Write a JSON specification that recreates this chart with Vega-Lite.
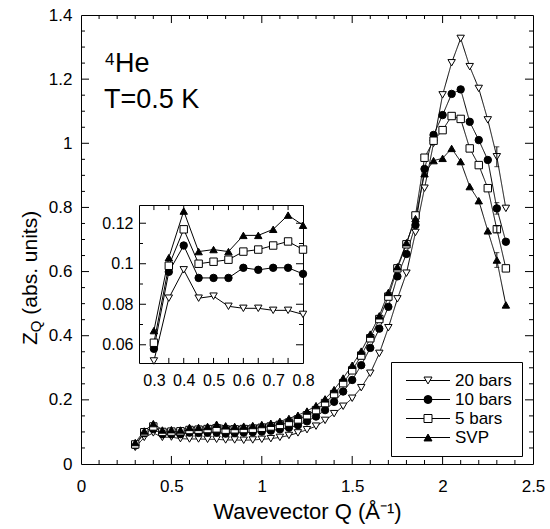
{
  "$schema": "https://vega.github.io/schema/vega-lite/v6.json",
  "width": 452,
  "height": 449,
  "autosize": {"type": "none"},
  "padding": {"left": 81, "top": 15, "right": 17, "bottom": 65},
  "background": "white",
  "config": {
    "view": {"stroke": null},
    "font": "Liberation Sans",
    "axis": {"domainColor": "black", "labelColor": "black", "titleColor": "black", "labelFont": "Liberation Sans", "titleFont": "Liberation Sans", "grid": false, "domainWidth": 1},
    "text": {"font": "Liberation Sans", "color": "black"}
  },
  "datasets": {
    "zq": [
      {"series": "20 bars", "q": 0.3, "z": 0.052}, {"series": "20 bars", "q": 0.35, "z": 0.083}, {"series": "20 bars", "q": 0.4, "z": 0.097}, {"series": "20 bars", "q": 0.45, "z": 0.083}, {"series": "20 bars", "q": 0.5, "z": 0.084}, {"series": "20 bars", "q": 0.55, "z": 0.079}, {"series": "20 bars", "q": 0.6, "z": 0.078}, {"series": "20 bars", "q": 0.65, "z": 0.078}, {"series": "20 bars", "q": 0.7, "z": 0.077}, {"series": "20 bars", "q": 0.75, "z": 0.077}, {"series": "20 bars", "q": 0.8, "z": 0.075},
      {"series": "20 bars", "q": 0.85, "z": 0.075}, {"series": "20 bars", "q": 0.9, "z": 0.074}, {"series": "20 bars", "q": 0.95, "z": 0.075}, {"series": "20 bars", "q": 1.0, "z": 0.077}, {"series": "20 bars", "q": 1.05, "z": 0.079}, {"series": "20 bars", "q": 1.1, "z": 0.083}, {"series": "20 bars", "q": 1.15, "z": 0.089}, {"series": "20 bars", "q": 1.2, "z": 0.097}, {"series": "20 bars", "q": 1.25, "z": 0.107}, {"series": "20 bars", "q": 1.3, "z": 0.118}, {"series": "20 bars", "q": 1.35, "z": 0.136}, {"series": "20 bars", "q": 1.4, "z": 0.157}, {"series": "20 bars", "q": 1.45, "z": 0.18}, {"series": "20 bars", "q": 1.5, "z": 0.205}, {"series": "20 bars", "q": 1.55, "z": 0.238}, {"series": "20 bars", "q": 1.6, "z": 0.283}, {"series": "20 bars", "q": 1.65, "z": 0.345}, {"series": "20 bars", "q": 1.7, "z": 0.425}, {"series": "20 bars", "q": 1.75, "z": 0.515}, {"series": "20 bars", "q": 1.8, "z": 0.595}, {"series": "20 bars", "q": 1.85, "z": 0.722}, {"series": "20 bars", "q": 1.9, "z": 0.86}, {"series": "20 bars", "q": 1.95, "z": 1.0}, {"series": "20 bars", "q": 2.0, "z": 1.151}, {"series": "20 bars", "q": 2.05, "z": 1.251}, {"series": "20 bars", "q": 2.1, "z": 1.327}, {"series": "20 bars", "q": 2.15, "z": 1.239}, {"series": "20 bars", "q": 2.2, "z": 1.171}, {"series": "20 bars", "q": 2.25, "z": 1.073}, {"series": "20 bars", "q": 2.3, "z": 0.958, "err": 0.031}, {"series": "20 bars", "q": 2.35, "z": 0.797},
      {"series": "10 bars", "q": 0.3, "z": 0.058}, {"series": "10 bars", "q": 0.35, "z": 0.096}, {"series": "10 bars", "q": 0.4, "z": 0.109}, {"series": "10 bars", "q": 0.45, "z": 0.093}, {"series": "10 bars", "q": 0.5, "z": 0.093}, {"series": "10 bars", "q": 0.55, "z": 0.093}, {"series": "10 bars", "q": 0.6, "z": 0.098}, {"series": "10 bars", "q": 0.65, "z": 0.097}, {"series": "10 bars", "q": 0.7, "z": 0.098}, {"series": "10 bars", "q": 0.75, "z": 0.098}, {"series": "10 bars", "q": 0.8, "z": 0.095},
      {"series": "10 bars", "q": 0.85, "z": 0.097}, {"series": "10 bars", "q": 0.9, "z": 0.098}, {"series": "10 bars", "q": 0.95, "z": 0.099}, {"series": "10 bars", "q": 1.0, "z": 0.101}, {"series": "10 bars", "q": 1.05, "z": 0.104}, {"series": "10 bars", "q": 1.1, "z": 0.108}, {"series": "10 bars", "q": 1.15, "z": 0.113}, {"series": "10 bars", "q": 1.2, "z": 0.121}, {"series": "10 bars", "q": 1.25, "z": 0.133}, {"series": "10 bars", "q": 1.3, "z": 0.148}, {"series": "10 bars", "q": 1.35, "z": 0.168}, {"series": "10 bars", "q": 1.4, "z": 0.194}, {"series": "10 bars", "q": 1.45, "z": 0.226}, {"series": "10 bars", "q": 1.5, "z": 0.262}, {"series": "10 bars", "q": 1.55, "z": 0.308}, {"series": "10 bars", "q": 1.6, "z": 0.362}, {"series": "10 bars", "q": 1.65, "z": 0.422}, {"series": "10 bars", "q": 1.7, "z": 0.49}, {"series": "10 bars", "q": 1.75, "z": 0.585}, {"series": "10 bars", "q": 1.8, "z": 0.655}, {"series": "10 bars", "q": 1.85, "z": 0.745}, {"series": "10 bars", "q": 1.9, "z": 0.92}, {"series": "10 bars", "q": 1.95, "z": 1.026}, {"series": "10 bars", "q": 2.0, "z": 1.088}, {"series": "10 bars", "q": 2.05, "z": 1.154}, {"series": "10 bars", "q": 2.1, "z": 1.168}, {"series": "10 bars", "q": 2.15, "z": 1.067}, {"series": "10 bars", "q": 2.2, "z": 1.01}, {"series": "10 bars", "q": 2.25, "z": 0.948}, {"series": "10 bars", "q": 2.3, "z": 0.797, "err": 0.018}, {"series": "10 bars", "q": 2.35, "z": 0.693},
      {"series": "5 bars", "q": 0.3, "z": 0.061}, {"series": "5 bars", "q": 0.35, "z": 0.099}, {"series": "5 bars", "q": 0.4, "z": 0.117}, {"series": "5 bars", "q": 0.45, "z": 0.1}, {"series": "5 bars", "q": 0.5, "z": 0.101}, {"series": "5 bars", "q": 0.55, "z": 0.102}, {"series": "5 bars", "q": 0.6, "z": 0.106}, {"series": "5 bars", "q": 0.65, "z": 0.107}, {"series": "5 bars", "q": 0.7, "z": 0.109}, {"series": "5 bars", "q": 0.75, "z": 0.111}, {"series": "5 bars", "q": 0.8, "z": 0.107},
      {"series": "5 bars", "q": 0.85, "z": 0.108}, {"series": "5 bars", "q": 0.9, "z": 0.109}, {"series": "5 bars", "q": 0.95, "z": 0.11}, {"series": "5 bars", "q": 1.0, "z": 0.113}, {"series": "5 bars", "q": 1.05, "z": 0.117}, {"series": "5 bars", "q": 1.1, "z": 0.122}, {"series": "5 bars", "q": 1.15, "z": 0.129}, {"series": "5 bars", "q": 1.2, "z": 0.139}, {"series": "5 bars", "q": 1.25, "z": 0.152}, {"series": "5 bars", "q": 1.3, "z": 0.168}, {"series": "5 bars", "q": 1.35, "z": 0.19}, {"series": "5 bars", "q": 1.4, "z": 0.218}, {"series": "5 bars", "q": 1.45, "z": 0.252}, {"series": "5 bars", "q": 1.5, "z": 0.292}, {"series": "5 bars", "q": 1.55, "z": 0.338}, {"series": "5 bars", "q": 1.6, "z": 0.392}, {"series": "5 bars", "q": 1.65, "z": 0.452}, {"series": "5 bars", "q": 1.7, "z": 0.522}, {"series": "5 bars", "q": 1.75, "z": 0.61}, {"series": "5 bars", "q": 1.8, "z": 0.685}, {"series": "5 bars", "q": 1.85, "z": 0.775}, {"series": "5 bars", "q": 1.9, "z": 0.955}, {"series": "5 bars", "q": 1.95, "z": 1.008}, {"series": "5 bars", "q": 2.0, "z": 1.041}, {"series": "5 bars", "q": 2.05, "z": 1.085}, {"series": "5 bars", "q": 2.1, "z": 1.076}, {"series": "5 bars", "q": 2.15, "z": 0.984}, {"series": "5 bars", "q": 2.2, "z": 0.932}, {"series": "5 bars", "q": 2.25, "z": 0.86}, {"series": "5 bars", "q": 2.3, "z": 0.732, "err": 0.01}, {"series": "5 bars", "q": 2.35, "z": 0.61},
      {"series": "SVP", "q": 0.3, "z": 0.067}, {"series": "SVP", "q": 0.35, "z": 0.103}, {"series": "SVP", "q": 0.4, "z": 0.126}, {"series": "SVP", "q": 0.45, "z": 0.106}, {"series": "SVP", "q": 0.5, "z": 0.107}, {"series": "SVP", "q": 0.55, "z": 0.106}, {"series": "SVP", "q": 0.6, "z": 0.114}, {"series": "SVP", "q": 0.65, "z": 0.114}, {"series": "SVP", "q": 0.7, "z": 0.117}, {"series": "SVP", "q": 0.75, "z": 0.124}, {"series": "SVP", "q": 0.8, "z": 0.119},
      {"series": "SVP", "q": 0.85, "z": 0.117}, {"series": "SVP", "q": 0.9, "z": 0.118}, {"series": "SVP", "q": 0.95, "z": 0.12}, {"series": "SVP", "q": 1.0, "z": 0.123}, {"series": "SVP", "q": 1.05, "z": 0.127}, {"series": "SVP", "q": 1.1, "z": 0.133}, {"series": "SVP", "q": 1.15, "z": 0.142}, {"series": "SVP", "q": 1.2, "z": 0.152}, {"series": "SVP", "q": 1.25, "z": 0.165}, {"series": "SVP", "q": 1.3, "z": 0.182}, {"series": "SVP", "q": 1.35, "z": 0.203}, {"series": "SVP", "q": 1.4, "z": 0.232}, {"series": "SVP", "q": 1.45, "z": 0.268}, {"series": "SVP", "q": 1.5, "z": 0.308}, {"series": "SVP", "q": 1.55, "z": 0.352}, {"series": "SVP", "q": 1.6, "z": 0.405}, {"series": "SVP", "q": 1.65, "z": 0.462}, {"series": "SVP", "q": 1.7, "z": 0.535}, {"series": "SVP", "q": 1.75, "z": 0.615}, {"series": "SVP", "q": 1.8, "z": 0.69}, {"series": "SVP", "q": 1.85, "z": 0.765}, {"series": "SVP", "q": 1.9, "z": 0.905}, {"series": "SVP", "q": 1.95, "z": 0.946}, {"series": "SVP", "q": 2.0, "z": 0.953}, {"series": "SVP", "q": 2.05, "z": 0.984}, {"series": "SVP", "q": 2.1, "z": 0.943}, {"series": "SVP", "q": 2.15, "z": 0.865}, {"series": "SVP", "q": 2.2, "z": 0.821}, {"series": "SVP", "q": 2.25, "z": 0.727}, {"series": "SVP", "q": 2.3, "z": 0.636, "err": 0.023}, {"series": "SVP", "q": 2.35, "z": 0.496},
      {"axis": "x", "kind": "major", "v": 0.5}, {"axis": "x", "kind": "major", "v": 1}, {"axis": "x", "kind": "major", "v": 1.5}, {"axis": "x", "kind": "major", "v": 2},
      {"axis": "x", "kind": "minor", "v": 0.1}, {"axis": "x", "kind": "minor", "v": 0.2}, {"axis": "x", "kind": "minor", "v": 0.3}, {"axis": "x", "kind": "minor", "v": 0.4}, {"axis": "x", "kind": "minor", "v": 0.6}, {"axis": "x", "kind": "minor", "v": 0.7}, {"axis": "x", "kind": "minor", "v": 0.8}, {"axis": "x", "kind": "minor", "v": 0.9}, {"axis": "x", "kind": "minor", "v": 1.1}, {"axis": "x", "kind": "minor", "v": 1.2}, {"axis": "x", "kind": "minor", "v": 1.3}, {"axis": "x", "kind": "minor", "v": 1.4}, {"axis": "x", "kind": "minor", "v": 1.6}, {"axis": "x", "kind": "minor", "v": 1.7}, {"axis": "x", "kind": "minor", "v": 1.8}, {"axis": "x", "kind": "minor", "v": 1.9}, {"axis": "x", "kind": "minor", "v": 2.1}, {"axis": "x", "kind": "minor", "v": 2.2}, {"axis": "x", "kind": "minor", "v": 2.3}, {"axis": "x", "kind": "minor", "v": 2.4},
      {"axis": "y", "kind": "major", "v": 0.2}, {"axis": "y", "kind": "major", "v": 0.4}, {"axis": "y", "kind": "major", "v": 0.6}, {"axis": "y", "kind": "major", "v": 0.8}, {"axis": "y", "kind": "major", "v": 1}, {"axis": "y", "kind": "major", "v": 1.2},
      {"axis": "y", "kind": "minor", "v": 0.05}, {"axis": "y", "kind": "minor", "v": 0.1}, {"axis": "y", "kind": "minor", "v": 0.15}, {"axis": "y", "kind": "minor", "v": 0.25}, {"axis": "y", "kind": "minor", "v": 0.3}, {"axis": "y", "kind": "minor", "v": 0.35}, {"axis": "y", "kind": "minor", "v": 0.45}, {"axis": "y", "kind": "minor", "v": 0.5}, {"axis": "y", "kind": "minor", "v": 0.55}, {"axis": "y", "kind": "minor", "v": 0.65}, {"axis": "y", "kind": "minor", "v": 0.7}, {"axis": "y", "kind": "minor", "v": 0.75}, {"axis": "y", "kind": "minor", "v": 0.85}, {"axis": "y", "kind": "minor", "v": 0.9}, {"axis": "y", "kind": "minor", "v": 0.95}, {"axis": "y", "kind": "minor", "v": 1.05}, {"axis": "y", "kind": "minor", "v": 1.1}, {"axis": "y", "kind": "minor", "v": 1.15}, {"axis": "y", "kind": "minor", "v": 1.25}, {"axis": "y", "kind": "minor", "v": 1.3}, {"axis": "y", "kind": "minor", "v": 1.35},
      {"axis": "ix", "kind": "major", "v": 0.3}, {"axis": "ix", "kind": "major", "v": 0.35}, {"axis": "ix", "kind": "major", "v": 0.4}, {"axis": "ix", "kind": "major", "v": 0.45}, {"axis": "ix", "kind": "major", "v": 0.5}, {"axis": "ix", "kind": "major", "v": 0.55}, {"axis": "ix", "kind": "major", "v": 0.6}, {"axis": "ix", "kind": "major", "v": 0.65}, {"axis": "ix", "kind": "major", "v": 0.7}, {"axis": "ix", "kind": "major", "v": 0.75},
      {"axis": "iy", "kind": "major", "v": 0.06}, {"axis": "iy", "kind": "major", "v": 0.08}, {"axis": "iy", "kind": "major", "v": 0.1}, {"axis": "iy", "kind": "major", "v": 0.12},
      {"axis": "iy", "kind": "minor", "v": 0.07}, {"axis": "iy", "kind": "minor", "v": 0.09}, {"axis": "iy", "kind": "minor", "v": 0.11}
    ]
  },
  "data": {"name": "zq"},
  "resolve": {"scale": {"x": "independent", "y": "independent"}, "axis": {"x": "independent", "y": "independent"}},
  "layer": [
    {
      "transform": [{"filter": "isValid(datum.series)"}],
      "mark": {"type": "line", "color": "black", "strokeWidth": 1},
      "encoding": {
        "x": {"field": "q", "type": "quantitative", "scale": {"domain": [0, 2.5], "nice": false},
          "axis": {"orient": "bottom", "values": [0, 0.5, 1, 1.5, 2, 2.5], "format": "~g", "ticks": false, "labelFontSize": 17, "labelPadding": 14, "labelFlush": false, "labelOverlap": false, "title": "Wavevector Q (Å⁻¹)", "titleFontSize": 22, "titleFontWeight": "normal", "titlePadding": 7}},
        "y": {"field": "z", "type": "quantitative", "scale": {"domain": [0, 1.4], "nice": false},
          "axis": {"orient": "left", "values": [0, 0.2, 0.4, 0.6, 0.8, 1, 1.2, 1.4], "format": "~g", "ticks": false, "labelFontSize": 17, "labelPadding": 9, "labelFlush": false, "labelOverlap": false, "title": null}},
        "strokeDash": {"field": "series", "type": "nominal", "sort": ["20 bars", "10 bars", "5 bars", "SVP"], "scale": {"range": [[1, 0], [1, 0], [1, 0], [1, 0]]},
          "legend": {"orient": "none", "legendX": 310, "legendY": 347, "title": null, "strokeColor": "black", "fillColor": "white", "padding": 10, "cornerRadius": 0, "symbolType": "M-5.5,0H5.5", "symbolSize": 64, "symbolStrokeWidth": 1, "symbolOffset": 18.5, "labelOffset": 18.5, "labelOpacity": 0, "rowPadding": 1, "labelFontSize": 17, "labelFont": "Liberation Sans", "zindex": 0}}
      }
    },
    {
      "transform": [{"filter": "isValid(datum.series)"}],
      "mark": {"type": "point", "stroke": "black", "strokeWidth": 1, "size": 55, "opacity": 1},
      "encoding": {
        "x": {"field": "q", "type": "quantitative", "scale": {"domain": [0, 2.5], "nice": false}, "axis": null},
        "y": {"field": "z", "type": "quantitative", "scale": {"domain": [0, 1.4], "nice": false}, "axis": null},
        "shape": {"field": "series", "type": "nominal", "scale": {"domain": ["20 bars", "10 bars", "5 bars", "SVP"], "range": ["triangle-down", "circle", "square", "triangle-up"]},
          "legend": {"orient": "none", "legendX": 310, "legendY": 347, "title": null, "padding": 10, "cornerRadius": 0, "symbolSize": 64, "symbolStrokeWidth": 1, "symbolOffset": 18.5, "labelOffset": 18.5, "rowPadding": 1, "labelFontSize": 17, "labelFont": "Liberation Sans", "labelColor": "black", "zindex": 1}},
        "fill": {"field": "series", "type": "nominal", "scale": {"domain": ["20 bars", "10 bars", "5 bars", "SVP"], "range": ["white", "black", "white", "black"]}, "legend": null}
      }
    },
    {
      "transform": [{"filter": "isValid(datum.series)"}],
      "mark": {"type": "line", "strokeOpacity": 0},
      "encoding": {
        "x": {"field": "q", "type": "quantitative", "scale": {"domain": [0, 2.5], "nice": false},
          "axis": {"orient": "top", "values": [0.5], "ticks": false, "labels": false, "title": null}},
        "y": {"field": "z", "type": "quantitative", "scale": {"domain": [0, 1.4], "nice": false},
          "axis": {"orient": "right", "values": [0.2], "ticks": false, "labels": false, "title": null}},
        "detail": {"field": "series", "type": "nominal"}
      }
    },
    {
      "transform": [{"filter": "isValid(datum.err)"}],
      "mark": {"type": "errorbar", "ticks": true, "color": "black"},
      "encoding": {
        "x": {"field": "q", "type": "quantitative", "scale": {"domain": [0, 2.5], "nice": false}, "axis": null},
        "y": {"field": "z", "type": "quantitative", "scale": {"domain": [0, 1.4], "nice": false}, "axis": null},
        "yError": {"field": "err"}
      }
    },
    {
      "transform": [{"filter": "datum.axis === 'x' && datum.kind === 'major'"}],
      "mark": {"type": "rule", "color": "black", "strokeWidth": 1},
      "encoding": {
        "x": {"field": "v", "type": "quantitative", "scale": {"domain": [0, 2.5], "nice": false}, "axis": null},
        "y": {"datum": 0, "type": "quantitative", "scale": {"domain": [0, 1.4], "nice": false}, "axis": null},
        "y2": {"datum": 0.025}
      }
    },
    {
      "transform": [{"filter": "datum.axis === 'x' && datum.kind === 'major'"}],
      "mark": {"type": "rule", "color": "black", "strokeWidth": 1},
      "encoding": {
        "x": {"field": "v", "type": "quantitative", "scale": {"domain": [0, 2.5], "nice": false}, "axis": null},
        "y": {"datum": 1.4, "type": "quantitative", "scale": {"domain": [0, 1.4], "nice": false}, "axis": null},
        "y2": {"datum": 1.375}
      }
    },
    {
      "transform": [{"filter": "datum.axis === 'x' && datum.kind === 'minor'"}],
      "mark": {"type": "rule", "color": "black", "strokeWidth": 1},
      "encoding": {
        "x": {"field": "v", "type": "quantitative", "scale": {"domain": [0, 2.5], "nice": false}, "axis": null},
        "y": {"datum": 0, "type": "quantitative", "scale": {"domain": [0, 1.4], "nice": false}, "axis": null},
        "y2": {"datum": 0.0125}
      }
    },
    {
      "transform": [{"filter": "datum.axis === 'x' && datum.kind === 'minor'"}],
      "mark": {"type": "rule", "color": "black", "strokeWidth": 1},
      "encoding": {
        "x": {"field": "v", "type": "quantitative", "scale": {"domain": [0, 2.5], "nice": false}, "axis": null},
        "y": {"datum": 1.4, "type": "quantitative", "scale": {"domain": [0, 1.4], "nice": false}, "axis": null},
        "y2": {"datum": 1.3875}
      }
    },
    {
      "transform": [{"filter": "datum.axis === 'y' && datum.kind === 'major'"}],
      "mark": {"type": "rule", "color": "black", "strokeWidth": 1},
      "encoding": {
        "y": {"field": "v", "type": "quantitative", "scale": {"domain": [0, 1.4], "nice": false}, "axis": null},
        "x": {"datum": 0, "type": "quantitative", "scale": {"domain": [0, 2.5], "nice": false}, "axis": null},
        "x2": {"datum": 0.0443}
      }
    },
    {
      "transform": [{"filter": "datum.axis === 'y' && datum.kind === 'major'"}],
      "mark": {"type": "rule", "color": "black", "strokeWidth": 1},
      "encoding": {
        "y": {"field": "v", "type": "quantitative", "scale": {"domain": [0, 1.4], "nice": false}, "axis": null},
        "x": {"datum": 2.5, "type": "quantitative", "scale": {"domain": [0, 2.5], "nice": false}, "axis": null},
        "x2": {"datum": 2.4557}
      }
    },
    {
      "transform": [{"filter": "datum.axis === 'y' && datum.kind === 'minor'"}],
      "mark": {"type": "rule", "color": "black", "strokeWidth": 1},
      "encoding": {
        "y": {"field": "v", "type": "quantitative", "scale": {"domain": [0, 1.4], "nice": false}, "axis": null},
        "x": {"datum": 0, "type": "quantitative", "scale": {"domain": [0, 2.5], "nice": false}, "axis": null},
        "x2": {"datum": 0.0221}
      }
    },
    {
      "transform": [{"filter": "datum.axis === 'y' && datum.kind === 'minor'"}],
      "mark": {"type": "rule", "color": "black", "strokeWidth": 1},
      "encoding": {
        "y": {"field": "v", "type": "quantitative", "scale": {"domain": [0, 1.4], "nice": false}, "axis": null},
        "x": {"datum": 2.5, "type": "quantitative", "scale": {"domain": [0, 2.5], "nice": false}, "axis": null},
        "x2": {"datum": 2.4779}
      }
    },
    {
      "transform": [{"filter": "datum.axis === 'ix'"}],
      "mark": {"type": "rule", "color": "black", "strokeWidth": 1},
      "encoding": {
        "x": {"field": "v", "type": "quantitative", "scale": {"domain": [0.25, 0.8], "range": [58, 222], "nice": false, "zero": false}, "axis": null},
        "y": {"datum": 0.051, "type": "quantitative", "scale": {"domain": [0.051, 0.129], "range": [348, 190], "nice": false, "zero": false}, "axis": null},
        "y2": {"datum": 0.0535}
      }
    },
    {
      "transform": [{"filter": "datum.axis === 'ix'"}],
      "mark": {"type": "rule", "color": "black", "strokeWidth": 1},
      "encoding": {
        "x": {"field": "v", "type": "quantitative", "scale": {"domain": [0.25, 0.8], "range": [58, 222], "nice": false, "zero": false}, "axis": null},
        "y": {"datum": 0.129, "type": "quantitative", "scale": {"domain": [0.051, 0.129], "range": [348, 190], "nice": false, "zero": false}, "axis": null},
        "y2": {"datum": 0.1265}
      }
    },
    {
      "transform": [{"filter": "datum.axis === 'iy' && datum.kind === 'major'"}],
      "mark": {"type": "rule", "color": "black", "strokeWidth": 1},
      "encoding": {
        "y": {"field": "v", "type": "quantitative", "scale": {"domain": [0.051, 0.129], "range": [348, 190], "nice": false, "zero": false}, "axis": null},
        "x": {"datum": 0.25, "type": "quantitative", "scale": {"domain": [0.25, 0.8], "range": [58, 222], "nice": false, "zero": false}, "axis": null},
        "x2": {"datum": 0.2735}
      }
    },
    {
      "transform": [{"filter": "datum.axis === 'iy' && datum.kind === 'major'"}],
      "mark": {"type": "rule", "color": "black", "strokeWidth": 1},
      "encoding": {
        "y": {"field": "v", "type": "quantitative", "scale": {"domain": [0.051, 0.129], "range": [348, 190], "nice": false, "zero": false}, "axis": null},
        "x": {"datum": 0.8, "type": "quantitative", "scale": {"domain": [0.25, 0.8], "range": [58, 222], "nice": false, "zero": false}, "axis": null},
        "x2": {"datum": 0.7765}
      }
    },
    {
      "transform": [{"filter": "datum.axis === 'iy' && datum.kind === 'minor'"}],
      "mark": {"type": "rule", "color": "black", "strokeWidth": 1},
      "encoding": {
        "y": {"field": "v", "type": "quantitative", "scale": {"domain": [0.051, 0.129], "range": [348, 190], "nice": false, "zero": false}, "axis": null},
        "x": {"datum": 0.25, "type": "quantitative", "scale": {"domain": [0.25, 0.8], "range": [58, 222], "nice": false, "zero": false}, "axis": null},
        "x2": {"datum": 0.2634}
      }
    },
    {
      "transform": [{"filter": "datum.axis === 'iy' && datum.kind === 'minor'"}],
      "mark": {"type": "rule", "color": "black", "strokeWidth": 1},
      "encoding": {
        "y": {"field": "v", "type": "quantitative", "scale": {"domain": [0.051, 0.129], "range": [348, 190], "nice": false, "zero": false}, "axis": null},
        "x": {"datum": 0.8, "type": "quantitative", "scale": {"domain": [0.25, 0.8], "range": [58, 222], "nice": false, "zero": false}, "axis": null},
        "x2": {"datum": 0.7866}
      }
    },
    {
      "transform": [{"filter": "isValid(datum.series) && datum.q <= 0.8"}],
      "mark": {"type": "line", "color": "black", "strokeWidth": 1},
      "encoding": {
        "x": {"field": "q", "type": "quantitative", "scale": {"domain": [0.25, 0.8], "range": [58, 222], "nice": false, "zero": false},
          "axis": {"orient": "bottom", "offset": -101, "values": [0.3, 0.4, 0.5, 0.6, 0.7, 0.8], "format": "~g", "ticks": false, "labelFontSize": 16, "labelPadding": 9, "labelFlush": false, "labelOverlap": false, "title": null}},
        "y": {"field": "z", "type": "quantitative", "scale": {"domain": [0.051, 0.129], "range": [348, 190], "nice": false, "zero": false},
          "axis": {"orient": "left", "offset": -58, "values": [0.06, 0.08, 0.1, 0.12], "format": "~g", "ticks": false, "labelFontSize": 16, "labelPadding": 6, "labelFlush": false, "labelOverlap": false, "title": null}},
        "detail": {"field": "series", "type": "nominal"}
      }
    },
    {
      "transform": [{"filter": "isValid(datum.series) && datum.q <= 0.8"}],
      "mark": {"type": "point", "stroke": "black", "strokeWidth": 1, "size": 55, "opacity": 1},
      "encoding": {
        "x": {"field": "q", "type": "quantitative", "scale": {"domain": [0.25, 0.8], "range": [58, 222], "nice": false, "zero": false}, "axis": null},
        "y": {"field": "z", "type": "quantitative", "scale": {"domain": [0.051, 0.129], "range": [348, 190], "nice": false, "zero": false}, "axis": null},
        "shape": {"field": "series", "type": "nominal", "scale": {"domain": ["20 bars", "10 bars", "5 bars", "SVP"], "range": ["triangle-down", "circle", "square", "triangle-up"]}, "legend": null},
        "fill": {"field": "series", "type": "nominal", "scale": {"domain": ["20 bars", "10 bars", "5 bars", "SVP"], "range": ["white", "black", "white", "black"]}, "legend": null}
      }
    },
    {
      "transform": [{"filter": "isValid(datum.series) && datum.q <= 0.8"}],
      "mark": {"type": "line", "strokeOpacity": 0},
      "encoding": {
        "x": {"field": "q", "type": "quantitative", "scale": {"domain": [0.25, 0.8], "range": [58, 222], "nice": false, "zero": false},
          "axis": {"orient": "bottom", "offset": -259, "values": [0.5], "ticks": false, "labels": false, "title": null}},
        "y": {"field": "z", "type": "quantitative", "scale": {"domain": [0.051, 0.129], "range": [348, 190], "nice": false, "zero": false},
          "axis": {"orient": "left", "offset": -222, "values": [0.1], "ticks": false, "labels": false, "title": null}},
        "detail": {"field": "series", "type": "nominal"}
      }
    },
    {
      "data": {"values": [{}]},
      "mark": {"type": "text", "text": "4", "fontSize": 17, "align": "left", "baseline": "alphabetic"},
      "encoding": {
        "x": {"datum": 0.133, "type": "quantitative", "scale": {"domain": [0, 2.5], "nice": false}, "axis": null},
        "y": {"datum": 1.244, "type": "quantitative", "scale": {"domain": [0, 1.4], "nice": false}, "axis": null}
      }
    },
    {
      "data": {"values": [{}]},
      "mark": {"type": "text", "text": "He", "fontSize": 27, "align": "left", "baseline": "alphabetic"},
      "encoding": {
        "x": {"datum": 0.188, "type": "quantitative", "scale": {"domain": [0, 2.5], "nice": false}, "axis": null},
        "y": {"datum": 1.222, "type": "quantitative", "scale": {"domain": [0, 1.4], "nice": false}, "axis": null}
      }
    },
    {
      "data": {"values": [{}]},
      "mark": {"type": "text", "text": "T=0.5 K", "fontSize": 27, "align": "left", "baseline": "alphabetic"},
      "encoding": {
        "x": {"datum": 0.127, "type": "quantitative", "scale": {"domain": [0, 2.5], "nice": false}, "axis": null},
        "y": {"datum": 1.11, "type": "quantitative", "scale": {"domain": [0, 1.4], "nice": false}, "axis": null}
      }
    },
    {
      "data": {"values": [{}]},
      "mark": {"type": "text", "text": "Z", "fontSize": 21, "angle": 270, "align": "left", "baseline": "alphabetic"},
      "encoding": {
        "x": {"datum": -0.2436, "type": "quantitative", "scale": {"domain": [0, 2.5], "nice": false}, "axis": null},
        "y": {"datum": 0.371, "type": "quantitative", "scale": {"domain": [0, 1.4], "nice": false}, "axis": null}
      }
    },
    {
      "data": {"values": [{}]},
      "mark": {"type": "text", "text": "Q", "fontSize": 15, "angle": 270, "align": "left", "baseline": "alphabetic"},
      "encoding": {
        "x": {"datum": -0.2215, "type": "quantitative", "scale": {"domain": [0, 2.5], "nice": false}, "axis": null},
        "y": {"datum": 0.411, "type": "quantitative", "scale": {"domain": [0, 1.4], "nice": false}, "axis": null}
      }
    },
    {
      "data": {"values": [{}]},
      "mark": {"type": "text", "text": "(abs. units)", "fontSize": 21, "angle": 270, "align": "left", "baseline": "alphabetic"},
      "encoding": {
        "x": {"datum": -0.2436, "type": "quantitative", "scale": {"domain": [0, 2.5], "nice": false}, "axis": null},
        "y": {"datum": 0.4655, "type": "quantitative", "scale": {"domain": [0, 1.4], "nice": false}, "axis": null}
      }
    }
  ]
}
